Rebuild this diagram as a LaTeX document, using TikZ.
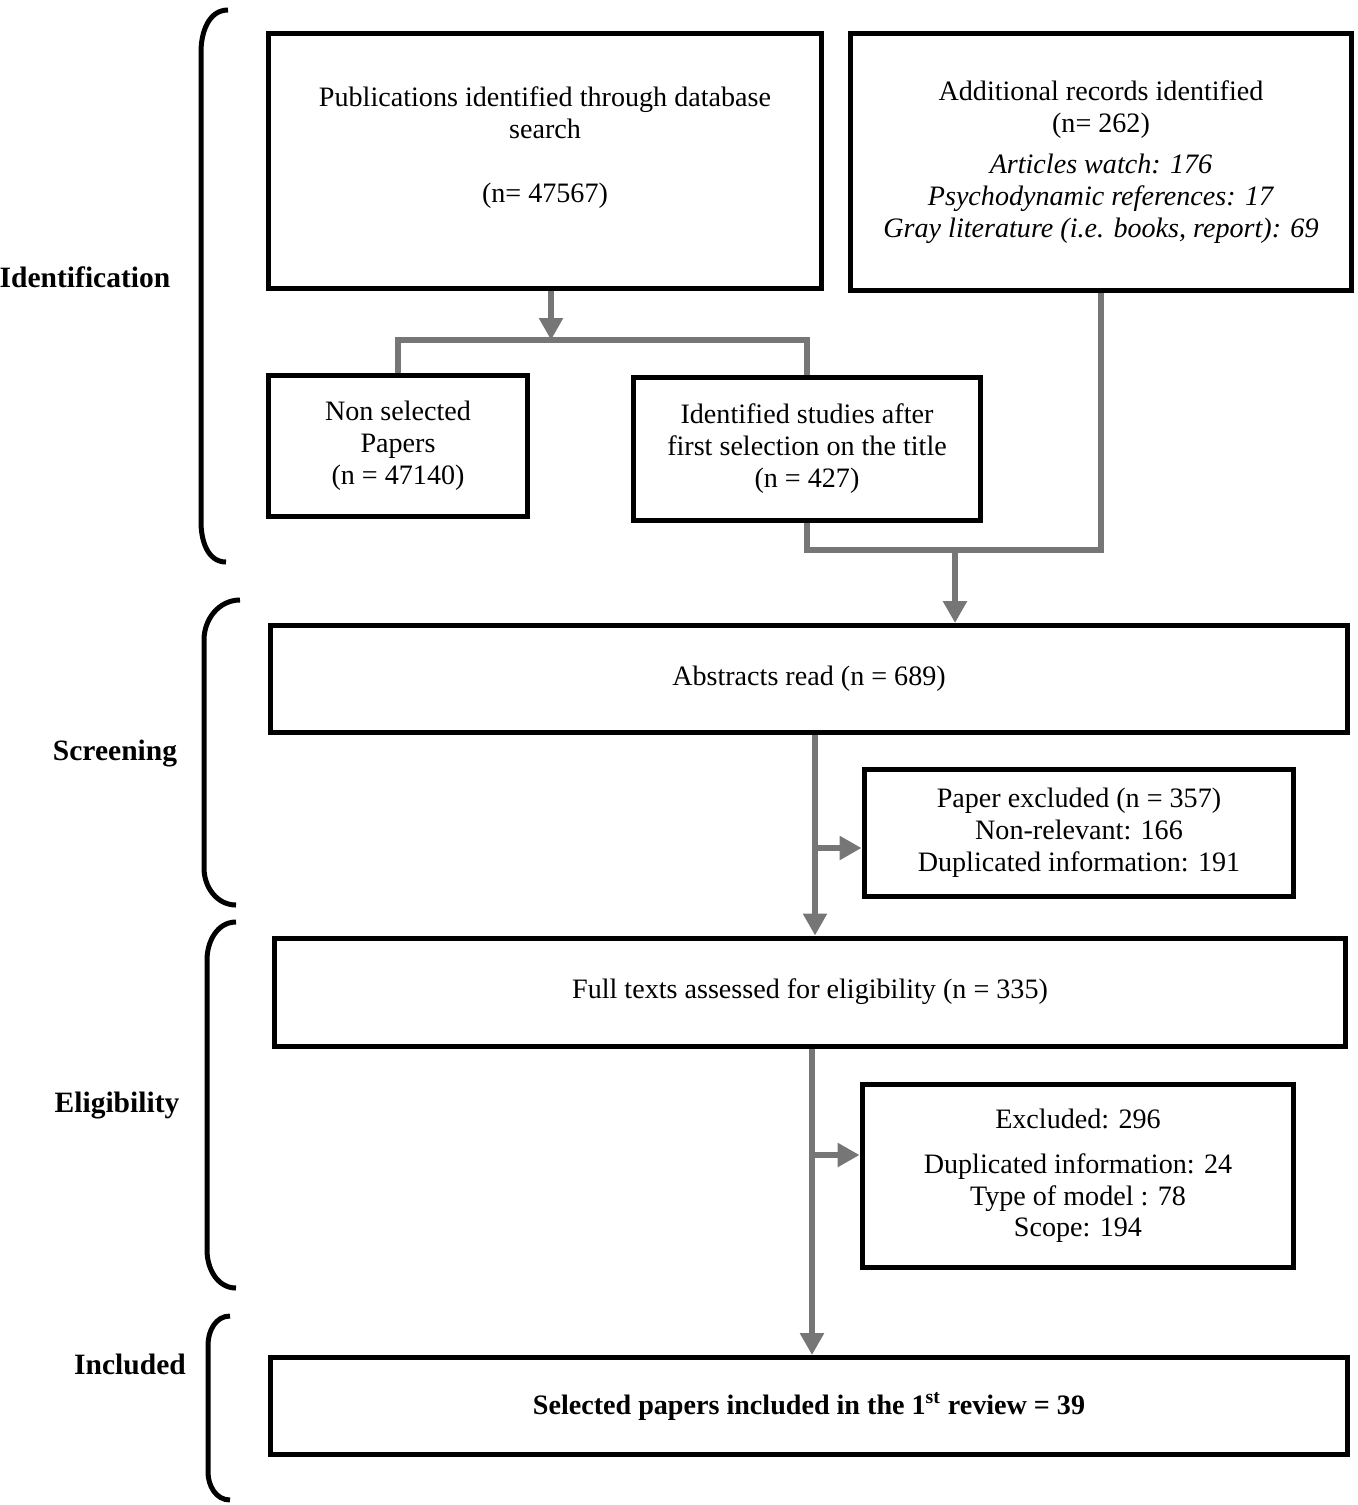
\documentclass[tikz,border=0pt]{standalone}
\usepackage{fontspec}
\setmainfont{Liberation Serif}
\usetikzlibrary{arrows.meta}

\definecolor{linkgray}{RGB}{118,118,118}
\tikzset{
  stagebox/.style={rectangle,draw=black,line width=0.1cm,align=center,
    inner sep=0pt,font=\fontsize{16}{18.2}\selectfont},
  link/.style={draw=linkgray,line width=0.13cm},
  arr/.style={-{Triangle[width=0.46cm,length=0.44cm]}},
  bracket/.style={draw=black,line width=0.1cm},
  phase/.style={font=\bfseries\fontsize{16.8}{19}\selectfont,anchor=center}
}

\begin{document}
\begin{tikzpicture}[x=0.02cm,y=-0.02cm]
  \useasboundingbox (0,0) rectangle (1358,1505);
  % identification
  \node[stagebox,minimum width=11.08cm,minimum height=5.12cm] (pub)
    at (545,161) {Publications identified through database\\search\\[0.64cm]
    (n= 47567)\\\mbox{}} ;
  \node[stagebox,minimum width=10.02cm,minimum height=5.16cm] (add)
    at (1101,162) {Additional records identified\\(n= 262)\\[5pt]
    \textit{Articles watch: 176}\\
    \textit{Psychodynamic references: 17}\\
    \textit{Gray literature (i.e. books, report): 69}} ;
  \node[stagebox,minimum width=5.2cm,minimum height=2.82cm] (nonsel)
    at (398,446) {Non selected\\Papers\\(n = 47140)} ;
  \node[stagebox,minimum width=6.96cm,minimum height=2.86cm] (ident)
    at (807,449) {Identified studies after\\first selection on the title\\(n = 427)} ;
  % screening
  \node[stagebox,minimum width=21.54cm,minimum height=2.14cm] (abs)
    at (809,679) {Abstracts read (n = 689)} ;
  \node[stagebox,minimum width=8.6cm,minimum height=2.54cm] (excl1)
    at (1079,833) {Paper excluded (n = 357)\\Non-relevant: 166\\Duplicated information: 191} ;
  % eligibility
  \node[stagebox,minimum width=21.44cm,minimum height=2.16cm] (full)
    at (810,992) {Full texts assessed for eligibility (n = 335)} ;
  \node[stagebox,minimum width=8.64cm,minimum height=3.68cm] (excl2)
    at (1078,1176) {Excluded: 296\\[0.25cm]Duplicated information: 24\\
    Type of model : 78\\Scope: 194} ;
  % included
  \node[stagebox,minimum width=21.54cm,minimum height=1.94cm] (sel)
    at (809,1406) {\bfseries Selected papers included in the 1\textsuperscript{st} review = 39} ;

  % connectors
  \coordinate (fork) at (551,340);
  \coordinate (merge) at (955,550);
  \coordinate (spine1) at (815,848);
  \coordinate (spine2) at (812,1155);
  \draw[link,arr] (pub.south -| fork) -- (fork);
  \draw[link] (nonsel.north) |- (ident.north |- fork) -- (ident.north);
  \draw[link] (ident.south) |- (add.south |- merge) -- (add.south);
  \draw[link,arr] (merge) -- (abs.north -| merge);
  \draw[link,arr] (abs.south -| spine1) -- (full.north -| spine1);
  \draw[link,arr] (spine1) -- (excl1.west |- spine1);
  \draw[link,arr] (full.south -| spine2) -- (sel.north -| spine2);
  \draw[link,arr] (spine2) -- (excl2.west |- spine2);

  % phase brackets
  \draw[bracket] (228,10) to[out=180,in=90] (201,52) -- (201,522)
    to[out=-90,in=180] (226,562);
  \draw[bracket] (240,600) to[out=180,in=90] (204,640) -- (204,868)
    to[out=-90,in=180] (236,905);
  \draw[bracket] (236,922) to[out=180,in=90] (207,960) -- (207,1250)
    to[out=-90,in=180] (236,1288);
  \draw[bracket] (230,1316) to[out=180,in=90] (208,1345) -- (208,1472)
    to[out=-90,in=180] (230,1500);
  \node[phase] (idlab) at (85,277) {Identification};
  \node[phase] (sclab) at (115,754) {Screening};
  \node[phase] (ellab) at (117,1106) {Eligibility};
  \node[phase] (inlab) at (130,1364) {Included};
\end{tikzpicture}
\end{document}
